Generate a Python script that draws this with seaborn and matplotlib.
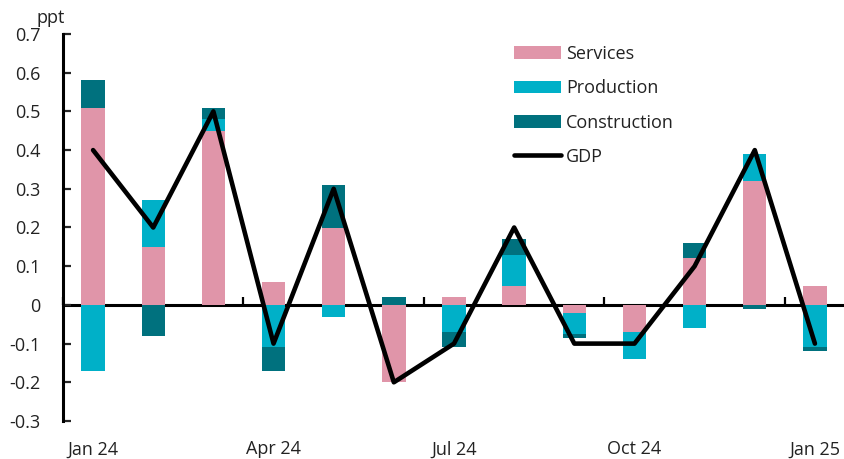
import numpy as np
import pandas as pd
import matplotlib
matplotlib.use("Agg")
import matplotlib.pyplot as plt
import seaborn as sns

months = ["Jan 24", "Feb 24", "Mar 24", "Apr 24", "May 24", "Jun 24", "Jul 24",
          "Aug 24", "Sep 24", "Oct 24", "Nov 24", "Dec 24", "Jan 25"]
services = [0.51, 0.15, 0.45, 0.06, 0.20, -0.20, 0.02, 0.05, -0.02, -0.07, 0.12, 0.32, 0.05]
production = [-0.17, 0.12, 0.03, -0.11, -0.03, 0.00, -0.07, 0.08, -0.055, -0.07, -0.06, 0.07, -0.11]
construction = [0.07, -0.08, 0.03, -0.06, 0.11, 0.02, -0.04, 0.04, -0.01, 0.00, 0.04, -0.01, -0.01]
gdp = [0.4, 0.2, 0.5, -0.1, 0.3, -0.2, -0.1, 0.2, -0.1, -0.1, 0.1, 0.4, -0.1]
shown_labels = ["Jan 24", "Apr 24", "Jul 24", "Oct 24", "Jan 25"]
y_ticks = [-0.3, -0.2, -0.1, 0, 0.1, 0.2, 0.3, 0.4, 0.5, 0.6, 0.7]

series = [("Services", services, "#E095A9"),
          ("Production", production, "#00B0C8"),
          ("Construction", construction, "#00717E")]

sns.set_theme(style="white")
plt.rcParams["font.family"] = ["Open Sans", "DejaVu Sans"]
FS = 13

fig = plt.figure(figsize=(8.45, 4.59), dpi=100)
ax = fig.add_axes([63 / 845, 1 - 421 / 459, 1 - 63 / 845, (421 - 34) / 459])

pos_base = np.zeros(len(months))
neg_base = np.zeros(len(months))
for name, vals, col in series:
    v = np.array(vals, dtype=float)
    bottoms = np.where(v >= 0, pos_base, neg_base)
    df = pd.DataFrame({"month": months, "value": v})
    sns.barplot(data=df, x="month", y="value", order=months, bottom=bottoms,
                color=col, saturation=1, width=0.39, ax=ax, label=name,
                linewidth=0, zorder=2)
    pos_base = pos_base + np.where(v >= 0, v, 0)
    neg_base = neg_base + np.where(v < 0, v, 0)

gdf = pd.DataFrame({"pos": np.arange(len(months)), "gdp": gdp})
sns.lineplot(data=gdf, x="pos", y="gdp", color="black", linewidth=3.3, ax=ax,
             label="GDP", zorder=4)

ax.set_xlim(-0.5, len(months) - 0.5)
ax.set_ylim(-0.3, 0.7)
ax.set_yticks(y_ticks)
ax.set_yticklabels(["0" if t == 0 else f"{t:.1f}" for t in y_ticks], fontsize=FS, color="#222222")
ax.tick_params(axis="y", direction="in", length=6, width=1.6, pad=16, left=True)
ax.set_xticks([months.index(m) for m in shown_labels])
ax.set_xticklabels(shown_labels, fontsize=FS, color="#222222")
ax.tick_params(axis="x", length=0, pad=14)
ax.set_xlabel("")
ax.set_ylabel("")
for s in ["top", "right", "bottom"]:
    ax.spines[s].set_visible(False)
ax.spines["left"].set_linewidth(2.2)
ax.spines["left"].set_color("black")

# zero axis with boundary ticks pointing up
sec = ax.secondary_xaxis(0.3)
sec.set_xticks([-0.5, 2.5, 5.5, 8.5, 11.5])
sec.set_xticklabels([])
sec.tick_params(direction="out", length=6, width=1.6, color="black")
sec.xaxis.set_ticks_position("top")
sec.spines["top"].set_visible(False)
sec.spines["bottom"].set_linewidth(2.2)
sec.spines["bottom"].set_color("black")

fig.text(37 / 845, 1 - 18 / 459, "ppt", fontsize=FS, va="center", ha="left", color="#222222")

handles, labels = ax.get_legend_handles_labels()
order = [labels.index(n) for n in ["Services", "Production", "Construction", "GDP"]]
leg = ax.legend([handles[i] for i in order], [labels[i] for i in order],
                loc="upper left", bbox_to_anchor=(514 / 845, 1 - 45 / 459),
                bbox_transform=fig.transFigure, frameon=False, fontsize=FS,
                borderpad=0, borderaxespad=0, handlelength=2.6, handleheight=0.7,
                handletextpad=0.3, labelspacing=0.9)
for t in leg.get_texts():
    t.set_color("#222222")

fig.savefig("out.png", dpi=100)
